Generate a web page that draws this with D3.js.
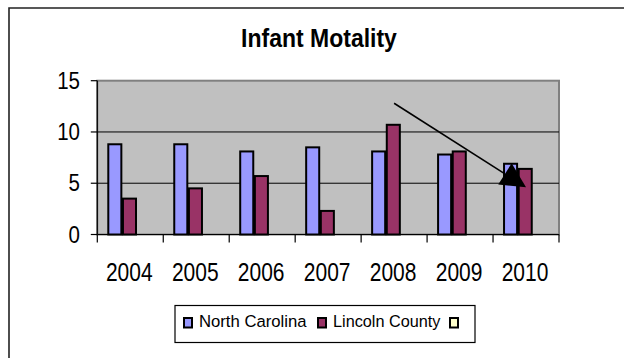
<!DOCTYPE html>
<html>
<head>
<meta charset="utf-8">
<script src="https://cdn.jsdelivr.net/npm/d3@7"></script>
<style>
  html, body { margin: 0; padding: 0; background: #fff; }
  svg { display: block; font-family: "Liberation Sans", Arial, sans-serif; }
</style>
</head>
<body>
<svg id="chart" width="624" height="358"></svg>
<script>
// Infant mortality rate per 1,000 live births
const years = ["2004", "2005", "2006", "2007", "2008", "2009", "2010"];
const northCarolina = [8.8, 8.8, 8.1, 8.5, 8.1, 7.8, 6.9];
const lincolnCounty = [3.5, 4.5, 5.7, 2.3, 10.7, 8.1, 6.4];
const thirdSeries = [null, null, null, null, null, null, null];
const seriesNames = ["North Carolina", "Lincoln County", ""];
const seriesColors = ["#9999FF", "#993366", "#FFFFCC"];
const yTicks = [0, 5, 10, 15];
const chartTitle = "Infant Motality";
// trend arrow, in (category index, value) units
const arrowFrom = [4, 12.8];
const arrowTo = [6, 4.6];

const svg = d3.select("#chart");
const plot = { left: 97.3, right: 559, top: 80.7, bottom: 234.5 };

// outer chart frame (open at right and bottom edges of the view)
svg.append("path")
  .attr("d", "M9,358 L9,8 L624,8")
  .attr("fill", "none").attr("stroke", "#222").attr("stroke-width", 1.6);

svg.append("g").attr("transform", "translate(319,47.3) scale(1,1.15)")
  .append("text")
  .attr("text-anchor", "middle")
  .attr("font-weight", "bold")
  .attr("font-size", 23)
  .attr("fill", "#000")
  .text(chartTitle);

const x = d3.scaleBand().domain(years).range([plot.left, plot.right]).padding(0);
const groupW = x.bandwidth() / 1.5;
const xs = d3.scaleBand().domain([0, 1, 2]).range([0, groupW]).padding(0);
const y = d3.scaleLinear().domain([0, 15]).range([plot.bottom, plot.top]);
const xi = d3.scaleLinear().domain([-0.5, years.length - 0.5]).range([plot.left, plot.right]);

// plot area
svg.append("rect")
  .attr("x", plot.left).attr("y", plot.top)
  .attr("width", plot.right - plot.left).attr("height", plot.bottom - plot.top)
  .attr("fill", "#C0C0C0").attr("stroke", "#808080").attr("stroke-width", 2);

// gridlines
svg.append("g").selectAll("line")
  .data(yTicks.filter(t => t > 0 && t < 15))
  .join("line")
  .attr("x1", plot.left).attr("x2", plot.right)
  .attr("y1", d => y(d)).attr("y2", d => y(d))
  .attr("stroke", "#000").attr("stroke-width", 1);

// bars
const series = [northCarolina, lincolnCounty, thirdSeries];
series.forEach((vals, si) => {
  svg.append("g").selectAll("rect")
    .data(vals.map((v, i) => ({ year: years[i], v })).filter(d => d.v != null))
    .join("rect")
    .attr("x", d => x(d.year) + (x.bandwidth() - groupW) / 2 + xs(si))
    .attr("width", xs.bandwidth() - 1.6)
    .attr("y", d => y(d.v))
    .attr("height", d => y(0) - y(d.v))
    .attr("fill", seriesColors[si])
    .attr("stroke", "#000").attr("stroke-width", 2);
});

// y axis
const yAxis = svg.append("g");
yAxis.append("line")
  .attr("x1", plot.left).attr("x2", plot.left)
  .attr("y1", plot.top).attr("y2", plot.bottom)
  .attr("stroke", "#000").attr("stroke-width", 1.2);
yTicks.forEach(t => {
  yAxis.append("line")
    .attr("x1", plot.left - 6.5).attr("x2", plot.left)
    .attr("y1", y(t)).attr("y2", y(t))
    .attr("stroke", "#000").attr("stroke-width", 1.2);
  yAxis.append("g").attr("transform", `translate(80,${y(t) + 8}) scale(1,1.2)`)
    .append("text")
    .attr("text-anchor", "end").attr("font-size", 20.5).attr("fill", "#000")
    .text(t);
});

// x axis
const xAxis = svg.append("g");
xAxis.append("line")
  .attr("x1", plot.left).attr("x2", plot.right)
  .attr("y1", plot.bottom).attr("y2", plot.bottom)
  .attr("stroke", "#000").attr("stroke-width", 1.2);
const bounds = years.map(d => x(d)).concat([plot.right]);
xAxis.selectAll("line.tick").data(bounds).join("line")
  .attr("class", "tick")
  .attr("x1", d => d).attr("x2", d => d)
  .attr("y1", plot.bottom).attr("y2", plot.bottom + 8)
  .attr("stroke", "#000").attr("stroke-width", 1.2);
years.forEach(yr => {
  xAxis.append("g").attr("transform", `translate(${x(yr) + x.bandwidth() / 2 - 1},281) scale(1,1.2)`)
    .append("text")
    .attr("text-anchor", "middle").attr("font-size", 21).attr("fill", "#000")
    .text(yr);
});

// trend arrow
const ax0 = xi(arrowFrom[0]), ay0 = y(arrowFrom[1]);
const ax1 = xi(arrowTo[0]), ay1 = y(arrowTo[1]);
const dx = ax1 - ax0, dy = ay1 - ay0, len = Math.hypot(dx, dy);
const ux = dx / len, uy = dy / len;
const headL = 25, headW = 12.5;
const bx = ax1 - ux * headL, by = ay1 - uy * headL;
svg.append("line")
  .attr("x1", ax0).attr("y1", ay0).attr("x2", bx).attr("y2", by)
  .attr("stroke", "#000").attr("stroke-width", 1.6);
svg.append("path")
  .attr("d", `M${ax1},${ay1} L${bx - uy * headW},${by + ux * headW} L${bx + uy * headW},${by - ux * headW} Z`)
  .attr("fill", "#000");

// legend
const legend = svg.append("g");
legend.append("rect")
  .attr("x", 175).attr("y", 305.5).attr("width", 300).attr("height", 37)
  .attr("fill", "#fff").attr("stroke", "#000").attr("stroke-width", 1.2);
const swatchX = [184, 318, 450];
seriesNames.forEach((name, i) => {
  legend.append("rect")
    .attr("x", swatchX[i]).attr("y", 318).attr("width", 8).attr("height", 9.5)
    .attr("fill", seriesColors[i]).attr("stroke", "#000").attr("stroke-width", 2);
  if (name) {
    legend.append("text")
      .attr("x", swatchX[i] + 15).attr("y", 326.7)
      .attr("font-size", 16.3).attr("fill", "#000")
      .attr("textLength", 107.5).attr("lengthAdjust", "spacingAndGlyphs")
      .text(name);
  }
});
</script>
</body>
</html>
